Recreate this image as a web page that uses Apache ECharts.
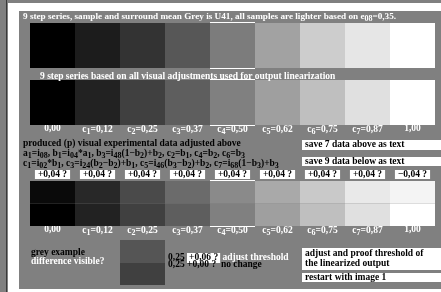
<!DOCTYPE html>
<html>
<head>
<meta charset="utf-8">
<script src="https://cdn.jsdelivr.net/npm/echarts@6/dist/echarts.min.js"></script>
<style>
html, body { margin: 0; padding: 0; background: #808080; }
#cc { width: 441px; height: 292px; }
</style>
</head>
<body>
<div id="cc"></div>
<script>
// step labels and grey levels (0..255)
var steps = ['0,00', 'c1=0,12', 'c2=0,25', 'c3=0,37', 'c4=0,50', 'c5=0,62', 'c6=0,75', 'c7=0,87', '1,00'];
var deltas = ['+0,04 ?', '+0,04 ?', '+0,04 ?', '+0,04 ?', '+0,04 ?', '+0,04 ?', '+0,04 ?', '+0,04 ?', '\u22120,04 ?'];
var greySample = [0, 28, 51, 87, 124, 162, 205, 230, 255];
var greyLinear = [0, 34, 64, 94, 128, 159, 191, 224, 255];
var greyTest = [10, 40, 74, 107, 138, 169, 201, 233, 244];
var greyExample = [85, 64];
var markCol = 4;

var serif = '"Liberation Serif", "Times New Roman", serif';
var fs = 9.5;
var subFs = 8;
function font(size) { return 'bold ' + size + 'px ' + serif; }

function stepLabel(v) {
    var m = v.match(/^c(\d)(.*)$/);
    if (!m) return v;
    return 'c{s|' + m[1] + '}' + m[2];
}

function cell(params, api) {
    var c = api.value(0);
    var y0 = api.value(1), y1 = api.value(2), g = api.value(3);
    var p0 = api.coord([c, y0]);
    var p1 = api.coord([c, y1]);
    var w = api.size([1, 0])[0];
    var x = p0[0] - w / 2;
    var top = Math.min(p0[1], p1[1]);
    var h = Math.abs(p1[1] - p0[1]);
    var kids = [{
        type: 'rect',
        shape: { x: x, y: top, width: w, height: h },
        style: { fill: 'rgb(' + g + ',' + g + ',' + g + ')' }
    }];
    if (c === markCol && params.seriesName !== 'example') {
        if (y0 === 0) kids.push({ type: 'line', shape: { x1: x, y1: top - 0.5, x2: x + w, y2: top - 0.5 }, style: { stroke: '#fff', lineWidth: 1 } });
        if (y1 === 1) kids.push({ type: 'line', shape: { x1: x, y1: top + h + 0.5, x2: x + w, y2: top + h + 0.5 }, style: { stroke: '#fff', lineWidth: 1 } });
    }
    return { type: 'group', children: kids };
}

function rows(arr, y0, y1) {
    return arr.map(function (g, i) { return [i, y0, y1, g]; });
}

function catAxis(grid, data, showLabels, pos) {
    return {
        type: 'category', gridIndex: grid, data: data, position: pos || 'bottom',
        show: true,
        axisLine: { show: false }, axisTick: { show: false }, splitLine: { show: false },
        axisLabel: { show: showLabels, interval: 0, margin: -1, color: '#fff', fontSize: fs, fontWeight: 'bold', fontFamily: serif,
            formatter: stepLabel, rich: { s: { fontSize: subFs, fontWeight: 'bold', fontFamily: serif, color: '#fff', verticalAlign: 'bottom', lineHeight: 12 } } }
    };
}

function valAxis(grid) {
    return { type: 'value', gridIndex: grid, min: 0, max: 1, inverse: true, show: false };
}

function txt(x, y, text, color, extra) {
    var st = { text: text, fill: color, font: font(fs), verticalAlign: 'middle', rich: {
        s: { fontSize: subFs, fontWeight: 'bold', fontFamily: serif, fill: color, verticalAlign: 'bottom', lineHeight: 12 }
    } };
    if (extra) for (var k in extra) st[k] = extra[k];
    return { type: 'text', x: x, y: y, z: 10, style: st };
}

function box(y, h) {
    return { type: 'rect', shape: { x: 302, y: y, width: 139, height: h }, style: { fill: '#fff' }, z: 5 };
}

var chart = echarts.init(document.getElementById('cc'), null, { renderer: 'canvas' });

var deltaAxis = catAxis(2, deltas, true, 'top');
deltaAxis.axisLabel = {
    interval: 0, margin: 2, color: '#000', fontSize: fs, fontWeight: 'bold', fontFamily: serif,
    backgroundColor: '#fff', padding: [1, 3, 0, 3], lineHeight: 8
};

var option = {
    animation: false,
    backgroundColor: '#808080',
    grid: [
        { left: 30, top: 23, width: 405, height: 45 },
        { left: 30, top: 80, width: 405, height: 45 },
        { left: 30, top: 181, width: 405, height: 45 },
        { left: 120, top: 240, width: 45, height: 45 }
    ],
    xAxis: [
        catAxis(0, steps, false),
        catAxis(1, steps, true),
        catAxis(2, steps, true),
        deltaAxis,
        catAxis(3, ['ex'], false)
    ],
    yAxis: [valAxis(0), valAxis(1), valAxis(2), valAxis(3)],
    graphic: [
        { type: 'rect', z: 0, shape: { x: 8, y: 3, width: 433, height: 289 }, style: { fill: '#fff' } },
        { type: 'rect', z: 0, shape: { x: 19, y: 11, width: 422, height: 278 }, style: { fill: '#808080' } },
        { type: 'rect', z: 0, shape: { x: 6, y: 0, width: 1, height: 292 }, style: { fill: '#3a3a3a' } },
        txt(23, 17, '9 step series, sample and surround mean Grey is U41, all samples are lighter based on e{s|08}=0,35.', '#fff', { font: font(9.2) }),
        txt(40, 77, '9 step series based on all visual adjustments used for output linearization', '#fff'),
        txt(23, 144, 'produced (p) visual experimental data adjusted above', '#000'),
        txt(23, 154, 'a{s|1}=i{s|08}, b{s|1}=i{s|04}*a{s|1}, b{s|3}=i{s|48}(1\u2212b{s|2})+b{s|2}, c{s|2}=b{s|1}, c{s|4}=b{s|2}, c{s|6}=b{s|3}', '#000'),
        txt(23, 164, 'c{s|1}=i{s|02}*b{s|1}, c{s|3}=i{s|24}(b{s|2}\u2212b{s|2})+b{s|1}, c{s|5}=i{s|46}(b{s|3}\u2212b{s|2})+b{s|2}, c{s|7}=i{s|68}(1\u2212b{s|3})+b{s|3}', '#000'),
        box(140, 10), txt(305, 145, 'save 7 data above as text', '#000'),
        box(157, 9), txt(305, 161.5, 'save 9 data below as text', '#000'),
        txt(31, 253, 'grey example', '#000'),
        txt(31, 262, 'difference visible?', '#fff'),
        txt(168, 258, '0,25 {b|+0,06 ?} {w|adjust threshold}', '#000', {
            rich: {
                b: { backgroundColor: '#fff', fill: '#000', font: font(fs), padding: [0, 2, 0, 2] },
                w: { fill: '#fff', font: font(fs) }
            }
        }),
        txt(168, 265, '0,25 +0,00 ?  no change', '#000'),
        box(248, 22), txt(305, 254, 'adjust and proof threshold of', '#000'),
        txt(305, 264, 'the linearized output', '#000'),
        box(273, 9), txt(305, 277.5, 'restart with image 1', '#000')
    ],
    series: [
        { name: 'sample', type: 'custom', xAxisIndex: 0, yAxisIndex: 0, renderItem: cell, data: rows(greySample, 0, 1) },
        { name: 'linear', type: 'custom', xAxisIndex: 1, yAxisIndex: 1, renderItem: cell, data: rows(greyLinear, 0, 1) },
        { name: 'test', type: 'custom', xAxisIndex: 2, yAxisIndex: 2, renderItem: cell, data: rows(greyTest, 0, 0.5) },
        { name: 'testBase', type: 'custom', xAxisIndex: 2, yAxisIndex: 2, renderItem: cell, data: rows(greyLinear, 0.5, 1) },
        { name: 'example', type: 'custom', xAxisIndex: 4, yAxisIndex: 3, renderItem: cell,
          data: [[0, 0, 0.5, greyExample[0]], [0, 0.5, 1, greyExample[1]]] }
    ]
};

chart.setOption(option);
</script>
</body>
</html>
